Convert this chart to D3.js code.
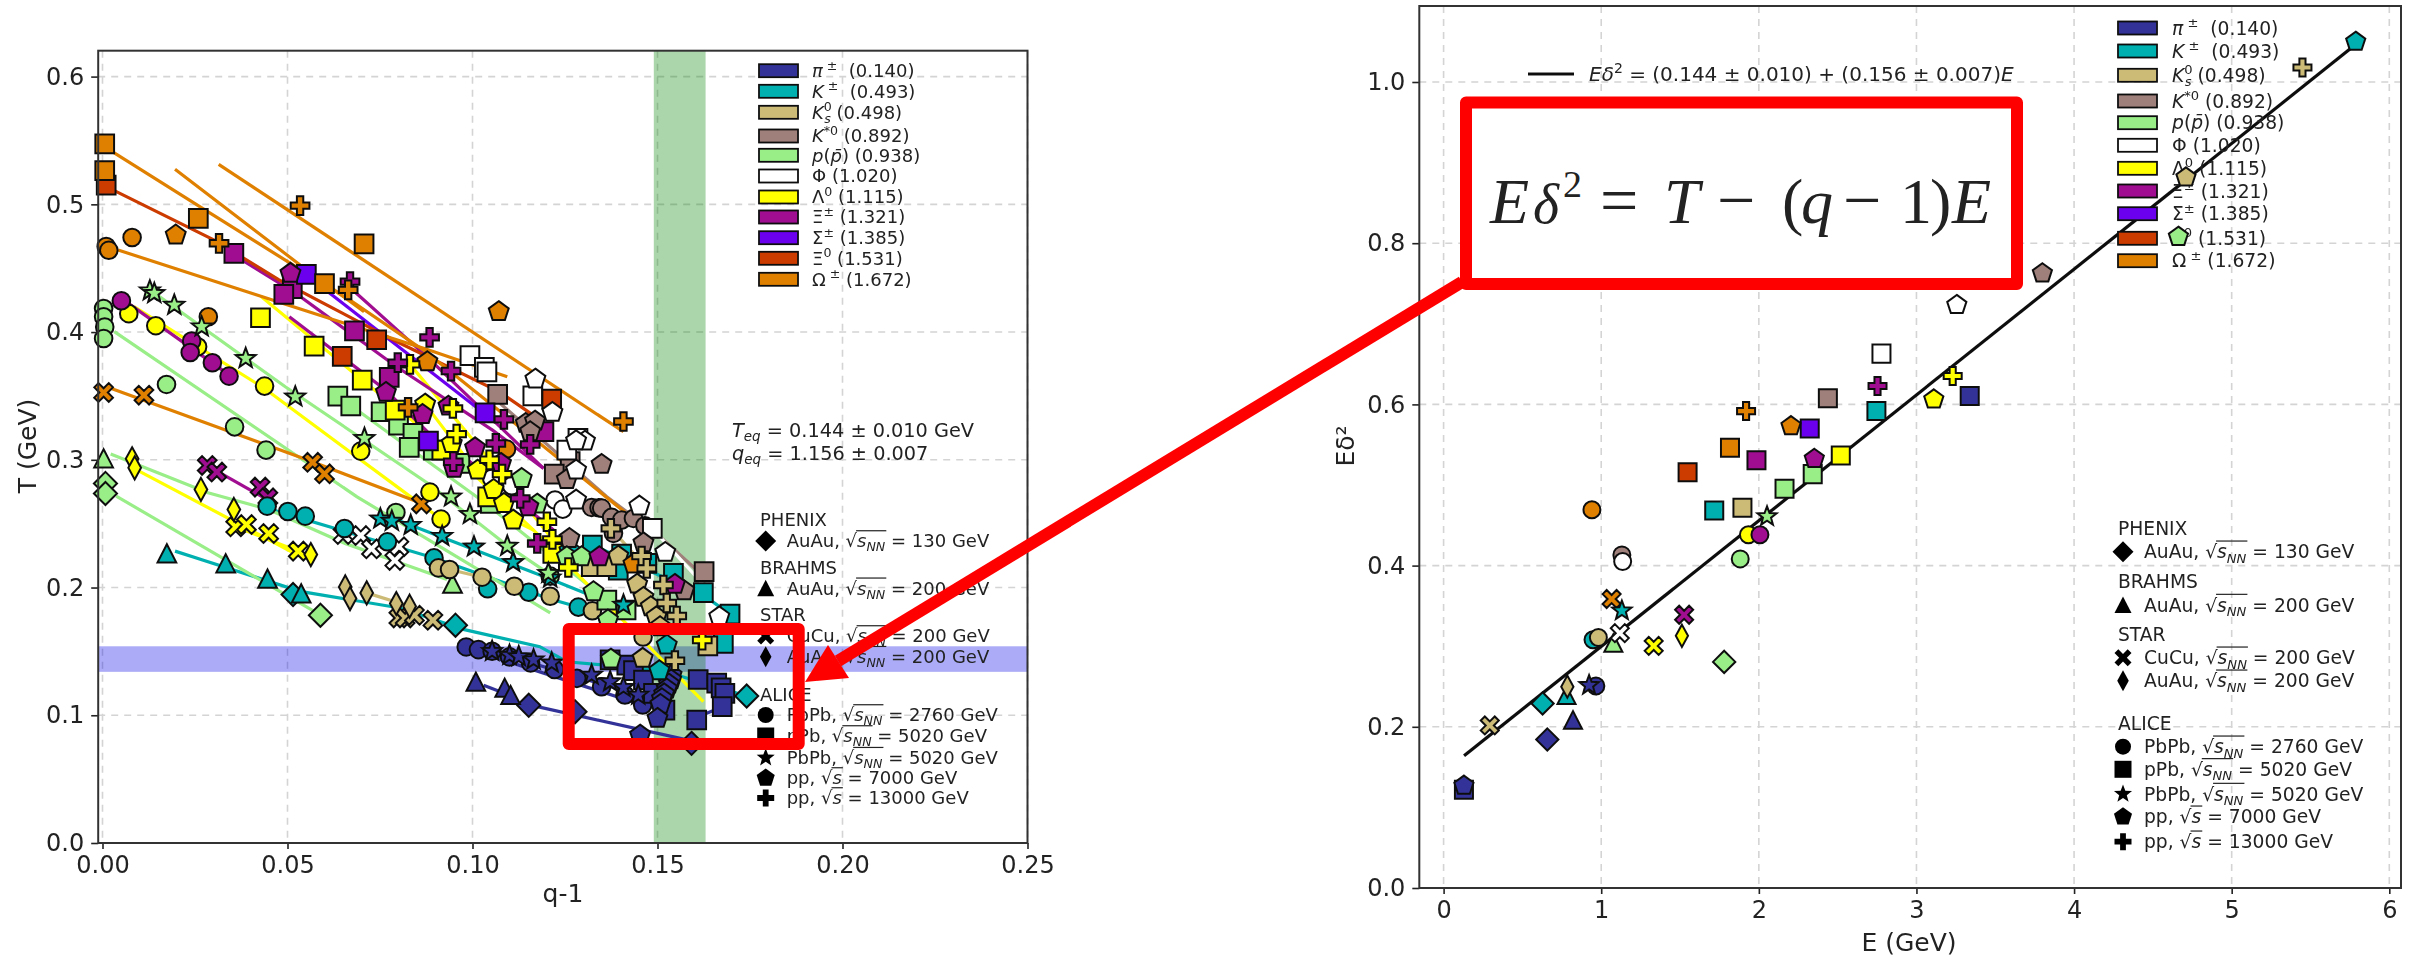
<!DOCTYPE html>
<html><head><meta charset="utf-8">
<script src="https://cdn.jsdelivr.net/npm/d3@7/dist/d3.min.js"></script>
<style>html,body{margin:0;background:#fff}svg{display:block}text{font-family:"DejaVu Sans";white-space:pre}</style>
</head><body><svg id="c" width="2411" height="960"></svg>
<script>
// ---------- particle identity ----------
const particleKeys=["pi","K","K0","Ks","p","phi","La","Xi","Si","Xi0","Om"];
const particleColors=["#333399","#00b0b0","#ccbb77","#a0807a","#99ee88","#ffffff","#ffff00","#a01090","#6a00ee","#cc3a00","#e08000"];
const systemOrder=["D","T","X","d","o","s","*","p","P"];
// ---------- left panel: [system, q-1, T] ----------
const piT=[["T",.1009,.1261],["T",.1087,.1214],["T",.1103,.1157],["D",.1152,.1078],["D",.1277,.1028],["D",.1592,.078],
["o",.0983,.1535],["o",.1016,.1514],["o",.1053,.1501],["o",.11,.1457],["o",.1157,.141],["o",.1222,.1358],["o",.1282,.1289],["o",.1349,.1223],["o",.1412,.1159],["o",.146,.108],
["*",.1053,.1501],["*",.11,.147],["*",.1125,.146],["*",.1165,.1435],["*",.1214,.141],["*",.1322,.1315],["*",.1372,.1263],["*",.1408,.1219],["*",.1448,.1159],
["s",.1372,.1433],["s",.1417,.1393],["s",.1435,.1349],["s",.1462,.1276],["s",.1489,.1172],["s",.152,.1041],["s",.161,.128],["s",.166,.1252],["s",.1672,.1215],["s",.1682,.1172],["s",.1675,.1067],["s",.1606,.0963],
["p",.1538,.1315],["p",.1537,.1277],["p",.1531,.1244],["p",.1525,.1206],["p",.1518,.1168],["p",.1512,.113],["p",.1508,.1085],["p",.15,.0976],["p",.1453,.0845]];
const kT=[["D",.0515,.1945],["D",.0954,.1705],["D",.1741,.1151],["T",.0174,.2266],["T",.0333,.2188],["T",.0446,.2068],["T",.0537,.1953],
["o",.0445,.2637],["o",.0501,.2595],["o",.0548,.2559],["o",.0654,.2462],["o",.077,.2358],["o",.0896,.2232],["o",.1041,.199],["o",.1152,.1963],["o",.1286,.1847],
["s",.1324,.2333],["s",.1403,.2262],["s",.1394,.2136],["s",.1471,.2189],["s",.1543,.2111],["s",.1624,.196],["s",.1696,.1792],["s",.1678,.1563],
["*",.0751,.2538],["*",.0782,.252],["*",.0833,.2488],["*",.0918,.2402],["*",.1004,.2319],["*",.111,.2198],["*",.121,.2076],["*",.1408,.1863],
["p",.1505,.1349],["p",.1525,.155],["p",.1262,.2290]];
const k0T=[["X",.0801,.1762],["X",.0818,.1762],["X",.0843,.1783],["X",.0893,.1744],["d",.0656,.2005],["d",.0669,.1914],["d",.0714,.1958],["d",.0794,.1875],["d",.083,.1854],
["o",.0908,.2154],["o",.0938,.2141],["o",.1026,.2081],["o",.1113,.201],["o",.121,.1932],["o",.1324,.1818],["o",.1461,.1613],
["s",.1321,.2163],["s",.1363,.2163],["s",.1636,.1544],
["p",.1394,.2246],["p",.1445,.2027],["p",.1462,.1923],["p",.1482,.185],["p",.1497,.1771],["p",.1507,.1693],["p",.146,.1446],
["P",.1374,.2463],["P",.1457,.2246],["P",.1471,.215],["P",.1516,.202],["P",.1525,.1879],["P",.1552,.1777],["P",.1547,.1427]];
const ksT=[["o",.1322,.2627],["o",.1342,.2625],["o",.1349,.2622],["o",.1376,.2549],["o",.1403,.2528],["o",.1435,.2541],["o",.1466,.2484],["o",.1381,.2424],
["s",.1068,.3512],["s",.1264,.2985],["s",.1221,.2888],["s",.1626,.2124],
["p",.1144,.3285],["p",.1169,.3303],["p",.1156,.322],["p",.1255,.2846],["p",.1349,.2964],["p",.1262,.2384],["p",.1462,.235],["p",.1572,.1975]];
const pT=[["D",.0008,.2815],["D",.0008,.2736],["D",.0589,.1783],["T",.0003,.301],["T",.0946,.2029],
["o",.0003,.4185],["o",.0003,.412],["o",.0006,.404],["o",.0003,.395],["o",.0173,.359],["o",.0357,.3258],["o",.0442,.3076],["o",.0793,.2588],["o",.121,.2089],
["s",.0636,.3499],["s",.0671,.3421],["s",.0753,.3376],["s",.08,.3272],["s",.0839,.3207],["s",.0829,.3097],["s",.0894,.3076],["s",.0966,.2972],["s",.1048,.2659],["s",.1363,.1902],["s",.1415,.1824],
["*",.0128,.4324],["*",.014,.4303],["*",.0194,.4211],["*",.0268,.4042],["*",.0387,.3794],["*",.0521,.3493],["*",.0708,.3168],["*",.0942,.271],["*",.0993,.2573],["*",.1094,.2324],["*",.1205,.2111],
["p",.1133,.2854],["p",.1175,.2653],["p",.1255,.2241],["p",.1295,.2241],["p",.1374,.144],["p",.1327,.1967],["p",.1366,.1746]];
const phiT=[["X",.065,.2415],["X",.0698,.2407],["X",.0727,.2303],["X",.0801,.2319],["X",.079,.2212],
["o",.1052,.2854],["o",.1106,.2797],["o",.1223,.2685],["o",.1244,.2614],
["s",.0993,.3815],["s",.1032,.3723],["s",.1039,.3689],["s",.1163,.3501],["s",.1285,.3167],["s",.1255,.3076],["s",.1486,.2463],
["p",.117,.3632],["p",.1216,.3371],["p",.1304,.3146],["p",.128,.3149],["p",.128,.292],["p",.128,.2685],["p",.1451,.2638],["p",.1521,.2275],["p",.1667,.1771]];
const laT=[["X",.036,.2475],["X",.0389,.2493],["X",.0449,.2423],["X",.0529,.2285],["d",.008,.3008],["d",.0087,.2937],["d",.0266,.2768],["d",.0355,.2611],["d",.0563,.2258],
["o",.0071,.4144],["o",.0144,.405],["o",.0257,.3885],["o",.0438,.3577],["o",.0698,.3068],["o",.0885,.2747],["o",.0915,.2536],
["s",.0427,.4112],["s",.0572,.389],["s",.0702,.3624],["s",.0791,.3389],["s",.0917,.3076],["s",.1041,.271],["s",.1217,.2267],
["p",.0872,.3436],["p",.0944,.3128],["p",.1014,.2919],["p",.1057,.2768],["p",.1085,.2658],["p",.111,.2528],
["P",.0831,.3747],["P",.0947,.3402],["P",.0957,.3201],["P",.1046,.3],["P",.108,.2888],["P",.1201,.2515],["P",.1216,.2377],["P",.1259,.2157],["P",.1621,.1589]];
const xiT=[["X",.0283,.2956],["X",.0309,.2904],["X",.0426,.2786],["X",.0447,.2702],
["o",.0051,.4245],["o",.0241,.393],["o",.0237,.384],["o",.0297,.376],["o",.0342,.3655],
["s",.0355,.4616],["s",.0513,.434],["s",.049,.4295],["s",.0681,.401],["s",.0775,.3645],["s",.1193,.322],
["p",.0508,.446],["p",.0766,.3528],["p",.0865,.3355],["p",.0935,.342],["p",.1007,.3094],["p",.095,.2933],["p",.1077,.2972],["p",.1151,.2633],["p",.1343,.2241],["p",.1547,.2025],
["P",.0669,.4395],["P",.0798,.376],["P",.0884,.3958],["P",.0942,.3695],["P",.1085,.3316],["P",.1063,.3128],["P",.1156,.312],["P",.0948,.2985],["P",.1129,.2698],["P",.1175,.2345]];
const siT=[["s",.0551,.4452],["s",.1034,.3368],["s",.0881,.3147]];
const xi0T=[["s",.001,.515],["s",.0741,.394],["s",.0648,.381],["s",.1214,.3475]];
const omT=[["X",.0003,.3527],["X",.0112,.3506],["X",.0568,.298],["X",.06,.289],["X",.0862,.2655],
["o",.001,.467],["o",.0017,.464],["o",.008,.474],["o",.0286,.412],["o",.1092,.3084],
["s",.0006,.5473],["s",.0006,.5264],["s",.0259,.489],["s",.0707,.469],["s",.06,.438],
["p",.0198,.476],["p",.0878,.3768],["p",.1071,.416],["p",.1435,.2184],
["P",.0315,.4695],["P",.0534,.499],["P",.0664,.433],["P",.0826,.341],["P",.1408,.33]];
// ---------- left panel: fit curves per particle ----------
const piLines=[[[.103,.1235],[.1105,.115]],[[.1172,.107],[.1592,.08]],[[.1,.151],[.146,.108]],[[.1053,.1501],[.1448,.1159]],[[.1606,.0985],[.1675,.1065]]];
const kLines=[[[.0196,.2285],[.0534,.197],[.0804,.184],[.0978,.167],[.1182,.1537],[.1255,.1419],[.1507,.1354],[.1741,.1151]],[[.0751,.258],[.121,.2067],[.1394,.185]],[[.0457,.261],[.0896,.2232],[.121,.191],[.1286,.1847]],[[.1324,.2333],[.1624,.194],[.1696,.1792]]];
const k0Lines=[[[.0714,.1958],[.083,.1854]],[[.0938,.2141],[.1026,.2081]],[[.1374,.2463],[.1471,.215]]];
const ksLines=[[[.1075,.3441],[.1255,.2985],[.1363,.2711],[.1507,.2398],[.1606,.2137]]];
const pLines=[[[.0148,.429],[.0495,.357],[.088,.2815],[.1094,.2329],[.1205,.2111]],[[.0032,.4003],[.0688,.271],[.121,.1802]],[[.0022,.3045],[.0285,.2742],[.0449,.2611],[.0651,.235],[.0931,.2063]],[[.0037,.2715],[.0592,.178]],[[.0688,.339],[.1026,.268],[.1363,.19]]];
const phiLines=[[[.1486,.2463],[.1631,.2]]];
const laLines=[[[.01,.291],[.0534,.2245]],[[.0085,.42],[.0437,.356],[.0833,.271],[.0915,.2536]],[[.0428,.428],[.0702,.3625],[.0917,.312],[.1165,.245],[.129,.2085],[.1624,.1106]],[[.0872,.3436],[.111,.2528],[.1165,.245]],[[.0831,.3747],[.1046,.3],[.1216,.2377]],[[.036,.2475],[.0529,.2285]]];
const xiLines=[[[.007,.4225],[.0342,.3665]],[[.037,.4577],[.0524,.43],[.0794,.373],[.1055,.323],[.1192,.2933]],[[.068,.432],[.0872,.382],[.1192,.2933]],[[.0505,.412],[.0765,.3546],[.093,.307],[.0993,.2985],[.1219,.245]],[[.0295,.2935],[.045,.268]]];
const siLines=[[[.0563,.442],[.1033,.336]]];
const xi0Lines=[[[.0032,.5107],[.0302,.472],[.0476,.441],[.0785,.394],[.1074,.353],[.1196,.3285]]];
const omLines=[[[.0022,.542],[.0292,.493],[.0534,.449],[.0669,.425],[.0872,.385],[.1237,.3],[.1412,.259]],[[.0196,.5274],[.0534,.4525],[.0707,.416]],[[.0314,.5313],[.1408,.322]],[[.0042,.4642],[.0428,.428],[.0669,.4055],[.0872,.387],[.1094,.365]],[[.0022,.356],[.0553,.3],[.0862,.266]]];
// ---------- right panel: [system, E, E delta^2] ----------
const piE=[["T",.821,.2083],["D",.658,.1842],["o",.966,.2506],["s",.129,.122],["s",3.338,.6103],["*",.923,.2515],["p",.129,.127]];
const kE=[["D",.628,.229],["T",.78,.239],["o",.948,.308],["s",1.717,.4685],["s",2.746,.5917],["*",1.131,.344],["p",5.787,1.05]];
const k0E=[["X",.293,.2017],["d",.785,.2498],["o",.982,.3108],["s",1.896,.4718],["p",4.71,.8816],["P",5.449,1.018]];
const ksE=[["o",1.131,.4133],["s",2.438,.6075],["p",3.799,.7627]];
const pE=[["D",1.78,.2805],["T",1.077,.3037],["o",1.882,.4083],["s",2.163,.4954],["s",2.342,.5135],["*",2.052,.461],["p",4.662,.808]];
const phiE=[["X",1.118,.3162],["o",1.136,.405],["s",2.778,.663],["p",3.256,.7234]];
const laE=[["X",1.333,.3004],["d",1.512,.3129],["o",1.934,.4382],["s",2.52,.5366],["p",3.11,.6062],["P",3.23,.6352]];
const xiE=[["X",1.526,.339],["o",2.007,.4382],["s",1.985,.5308],["p",2.352,.5325],["P",2.753,.6228]];
const siE=[["s",2.323,.5702]];
const xi0E=[["s",1.548,.5159]];
const omE=[["X",1.066,.3585],["o",.941,.4693],["s",1.817,.5462],["p",2.204,.573],["P",1.919,.5917]];
const fitLine=[[.13,.164],[5.79,1.047]];
// ---------- ticks, bands ----------
const qTicks=[0,.05,.1,.15,.2,.25], tTicks=[0,.1,.2,.3,.4,.5,.6];
const eTicks=[0,1,2,3,4,5,6], dTicks=[0,.2,.4,.6,.8,1];
const qBand=[.149,.163], tBand=[.134,.154];
const leftSeries=[piT,kT,k0T,ksT,pT,phiT,laT,xiT,siT,xi0T,omT];
const leftLines=[piLines,kLines,k0Lines,ksLines,pLines,phiLines,laLines,xiLines,siLines,xi0Lines,omLines];
const rightSeries=[piE,kE,k0E,ksE,pE,phiE,laE,xiE,siE,xi0E,omE];

// ---------- marker shapes ----------
const poly=pts=>({draw(c,s){const r=Math.sqrt(s)/2;pts.forEach((p,i)=>i?c.lineTo(p[0]*r,p[1]*r):c.moveTo(p[0]*r,p[1]*r));c.closePath();}});
const ring=(n,rot,rs)=>d3.range(n).map(i=>{const a=rot+i*2*Math.PI/n,r=rs?(i%2?rs:1):1;return[Math.sin(a)*r,-Math.cos(a)*r]});
const a=.34;
const shapes={
 o:{draw(c,s){const r=Math.sqrt(s)/2;c.moveTo(r,0);c.arc(0,0,r,0,2*Math.PI);}},
 s:poly([[-1,-1],[1,-1],[1,1],[-1,1]]),
 D:poly([[0,-1],[1,0],[0,1],[-1,0]]),
 d:poly([[0,-1],[.55,0],[0,1],[-.55,0]]),
 T:poly([[0,-1],[1,.95],[-1,.95]]),
 p:poly(ring(5,0)),
 "*":poly(ring(10,0,.42)),
 P:poly([[-a,-1],[a,-1],[a,-a],[1,-a],[1,a],[a,a],[a,1],[-a,1],[-a,a],[-1,a],[-1,-a],[-a,-a]]),
 X:poly([[-1,-.55],[-.55,-1],[0,-.45],[.55,-1],[1,-.55],[.45,0],[1,.55],[.55,1],[0,.45],[-.55,1],[-1,.55],[-.45,0]])
};
const sizes={o:16,s:17,D:21,d:21,T:17,p:19,"*":19,P:17,X:17};
const symbolPath=(k,f=1)=>d3.symbol().type(shapes[k]).size((sizes[k]*f)**2)();

const svg=d3.select("#c");
const defs=svg.append("defs");
defs.append("filter").attr("id","soft").attr("filterUnits","userSpaceOnUse").attr("x",0).attr("y",0).attr("width",2411).attr("height",960)
  .append("feGaussianBlur").attr("stdDeviation",.7);

function rich(g,x,y,parts,fs,fill="#222"){
  const t=g.append("text").attr("x",x).attr("y",y).attr("font-size",fs).attr("fill",fill);
  let cur=0;const over=[];
  parts.forEach(p=>{
    const o=typeof p==="string"?{t:p}:p;
    const off=o.b==="sup"?-.42*fs:o.b==="sub"?.22*fs:0;
    const ts=t.append("tspan").text(o.t).attr("dy",off-cur);
    if(o.dx)ts.attr("dx",o.dx*fs);
    if(o.i)ts.attr("font-style","italic");
    if(o.b)ts.attr("font-size",fs*.7);
    if(o.over)over.push(ts.node());
    cur=off;
  });
  if(over.length){
    const x0=over[0].getStartPositionOfChar(0).x;
    const last=over[over.length-1];
    const x1=last.getStartPositionOfChar(0).x+last.getComputedTextLength();
    g.append("line").attr("x1",x0-1).attr("x2",x1+1).attr("y1",y-.93*fs).attr("y2",y-.93*fs).attr("stroke",fill).attr("stroke-width",1.2);
  }
}
const it=(t,b)=>({t,i:1,b});
const sup=t=>({t,b:"sup"});
const particleLabels=[
 [it("π"),sup(" ±"),"  (0.140)"],[it("K"),sup(" ±"),"  (0.493)"],
 [it("K"),sup("0"),{t:"s",i:1,b:"sub",dx:-.42}," (0.498)"],[it("K"),sup("*0")," (0.892)"],
 [it("p"),"(",it("p̄"),") (0.938)"],["Φ (1.020)"],["Λ",sup("0")," (1.115)"],["Ξ",sup("±")," (1.321)"],["Σ",sup("±")," (1.385)"],["Ξ",sup("0")," (1.531)"],["Ω",sup(" ±")," (1.672)"]];
const rootNN=(pre,tail)=>[pre+", ",{t:"√"},{t:"s",i:1,over:1},{t:"NN",i:1,b:"sub",over:1}," = "+tail];
const rootS=(pre,tail)=>[pre+", ",{t:"√"},{t:"s",i:1,over:1}," = "+tail];
const systemRows=[
 {head:"PHENIX"},{m:"D",l:rootNN("AuAu","130 GeV")},{head:"BRAHMS"},{m:"T",l:rootNN("AuAu","200 GeV")},
 {head:"STAR"},{m:"X",l:rootNN("CuCu","200 GeV")},{m:"d",l:rootNN("AuAu","200 GeV")},
 {head:"ALICE"},{m:"o",l:rootNN("PbPb","2760 GeV")},{m:"s",l:rootNN("pPb","5020 GeV")},{m:"*",l:rootNN("PbPb","5020 GeV")},{m:"p",l:rootS("pp","7000 GeV")},{m:"P",l:rootS("pp","13000 GeV")}];

function frame(g,x,y,box,xT,yT){
  g.append("g").selectAll("line").data(xT).join("line").attr("y1",box.t).attr("y2",box.b).attr("x1",d=>x(d)).attr("x2",d=>x(d)).attr("stroke","#d4d4d4").attr("stroke-width",1.6).attr("stroke-dasharray","7 6");
  g.append("g").selectAll("line").data(yT.filter(d=>d>0)).join("line").attr("x1",box.l).attr("x2",box.r).attr("y1",d=>y(d)).attr("y2",d=>y(d)).attr("stroke","#d4d4d4").attr("stroke-width",1.6).attr("stroke-dasharray","7 6");
}
function axes(g,x,y,box,xT,yT,xFmt,yFmt){
  const ax=g.append("g").attr("transform",`translate(0,${box.b})`).call(d3.axisBottom(x).tickValues(xT).tickFormat(xFmt).tickSize(6).tickPadding(7));
  const ay=g.append("g").attr("transform",`translate(${box.l},0)`).call(d3.axisLeft(y).tickValues(yT).tickFormat(yFmt).tickSize(7).tickPadding(7));
  [ax,ay].forEach(a=>{a.select(".domain").remove();a.selectAll("text").attr("font-size",24).attr("font-family","DejaVu Sans").attr("fill","#222");a.selectAll("line").attr("stroke","#222").attr("stroke-width",1.6);});
  g.append("rect").attr("x",box.l).attr("y",box.t).attr("width",box.r-box.l).attr("height",box.b-box.t).attr("fill","none").attr("stroke","#333").attr("stroke-width",2);
}
function markers(g,x,y,series,f){
  const rows=[];
  series.forEach((arr,i)=>arr.forEach(d=>rows.push({k:d[0],a:d[1],b:d[2],i})));
  rows.sort((p,q)=>systemOrder.indexOf(p.k)-systemOrder.indexOf(q.k)||p.i-q.i);
  g.append("g").selectAll("path").data(rows).join("path")
   .attr("d",d=>symbolPath(d.k,f)).attr("transform",d=>`translate(${x(d.a)},${y(d.b)})`)
   .attr("fill",d=>particleColors[d.i]).attr("stroke","#111").attr("stroke-width",2).attr("stroke-linejoin","miter");
}
function particleLegend(g,ys,px,pw,tx,fs){
  ys.forEach((yy,i)=>{
    g.append("rect").attr("x",px).attr("y",yy-6.5).attr("width",pw).attr("height",13).attr("fill",particleColors[i]).attr("stroke","#111").attr("stroke-width",1.8);
    rich(g,tx,yy+fs*.36,particleLabels[i],fs);
  });
}
function systemLegend(g,ys,hx,mx,tx,fs){
  systemRows.forEach((r,i)=>{
    const yy=ys[i];
    if(r.head){rich(g,hx,yy+fs*.36,[r.head],fs);return;}
    g.append("path").attr("d",symbolPath(r.m,1)).attr("transform",`translate(${mx},${yy})`).attr("fill","#000");
    rich(g,tx,yy+fs*.36,r.l,fs);
  });
}

// ================= LEFT =================
const L={l:98.2,r:1027.5,t:50.7,b:843};
const xL=d3.scaleLinear().domain([0,.25]).range([102.5,1027.5]);
const yL=d3.scaleLinear().domain([0,.6]).range([843,76.6]);
const gL=svg.append("g").attr("filter","url(#soft)");
frame(gL,xL,yL,L,qTicks,tTicks);
gL.append("rect").attr("x",L.l).attr("width",L.r-L.l).attr("y",yL(tBand[1])).attr("height",yL(tBand[0])-yL(tBand[1])).attr("fill","#0000e6").attr("fill-opacity",.33);
gL.append("rect").attr("x",xL(qBand[0])).attr("width",xL(qBand[1])-xL(qBand[0])).attr("y",L.t).attr("height",L.b-L.t).attr("fill","#008000").attr("fill-opacity",.33);
const lineGen=(x,y)=>d3.line().x(d=>x(d[0])).y(d=>y(d[1]));
leftLines.forEach((ls,i)=>gL.append("g").selectAll("path").data(ls).join("path").attr("d",lineGen(xL,yL)).attr("fill","none").attr("stroke",particleColors[i]).attr("stroke-width",3.2));
particleLegend(gL,[70.7,91.3,112.3,136,155.3,176,197,217,237.7,258.3,279.3],759,39,812,18);
rich(gL,732,436.5,[it("T"),it("eq",'sub')," = 0.144 ± 0.010 GeV"],19.3);
rich(gL,732,459.5,[it("q"),it("eq",'sub')," = 1.156 ± 0.007"],19.3);
systemLegend(gL,[520,541,567.3,588.3,615,636,656.7,694.3,715,736,757.7,778,798],760,765.7,786.7,18);
markers(gL,xL,yL,leftSeries,1.1);
axes(gL,xL,yL,L,qTicks,tTicks,d3.format(".2f"),d3.format(".1f"));
gL.append("text").attr("x",563).attr("y",902).attr("text-anchor","middle").attr("font-size",25).attr("fill","#222").text("q-1");
gL.append("text").attr("transform","translate(36,446) rotate(-90)").attr("text-anchor","middle").attr("font-size",25).attr("fill","#222").text("T (GeV)");

// ================= RIGHT =================
const R={l:1419.3,r:2401,t:6,b:888};
const xR=d3.scaleLinear().domain([0,6]).range([1443.6,2389.3]);
const yR=d3.scaleLinear().domain([0,1]).range([888,82]);
const gR=svg.append("g").attr("filter","url(#soft)");
frame(gR,xR,yR,R,eTicks,dTicks);
gR.append("path").datum(fitLine).attr("d",lineGen(xR,yR)).attr("fill","none").attr("stroke","#111").attr("stroke-width",3.2);
gR.append("line").attr("x1",1528).attr("x2",1574).attr("y1",74).attr("y2",74).attr("stroke","#111").attr("stroke-width",3);
rich(gR,1589,81,[it("E"),it("δ"),sup("2")," = (0.144 ± 0.010) + (0.156 ± 0.007)",it("E")],20);
particleLegend(gR,[28,51,75.3,101,122.7,145.3,168.3,191,213.7,238.3,260.7],2118,39,2172,18.7);
systemLegend(gR,[528,551.7,581.7,605,634,657.7,680.7,723.3,746.7,769.3,794,816.7,841.7],2118,2123,2144,18.7);
markers(gR,xR,yR,rightSeries,1.06);
axes(gR,xR,yR,R,eTicks,dTicks,d3.format("d"),d3.format(".1f"));
gR.append("text").attr("x",1909).attr("y",951).attr("text-anchor","middle").attr("font-size",25).attr("fill","#222").text("E (GeV)");
gR.append("text").attr("transform","translate(1354,446) rotate(-90)").attr("text-anchor","middle").attr("font-size",25).attr("fill","#222").text("Eδ²");

// ================= RED ANNOTATION =================
const red=svg.append("g");
red.append("rect").attr("x",1466).attr("y",102.5).attr("width",551).attr("height",181.5).attr("fill","#fff").attr("stroke","#ff0000").attr("stroke-width",12).attr("stroke-linejoin","round");
red.append("rect").attr("x",568.7).attr("y",629).attr("width",230).attr("height",115).attr("fill","none").attr("stroke","#ff0000").attr("stroke-width",12).attr("stroke-linejoin","round");
red.append("line").attr("x1",838).attr("y1",661).attr("x2",1462).attr("y2",282).attr("stroke","#ff0000").attr("stroke-width",12);
red.append("path").attr("d",d3.line()([[805,682],[828,645],[849,678]])+"Z").attr("fill","#ff0000");
const formula=[["E",1490,1,64],["δ",1533,1,56],["2",1563,0,38,-26],["=",1600,0,68],["T",1664,1,64],["−",1717,0,68],["(",1782,0,64],["q",1801,1,64],["−",1843,0,68],["1",1900,0,64],[")",1930,0,64],["E",1952,1,64]];
formula.forEach(f=>red.append("text").attr("x",f[1]).attr("y",223+(f[4]||0)).attr("font-size",f[3]).attr("fill","#222").style("font-family","Liberation Serif").attr("font-style",f[2]?"italic":"normal").text(f[0]));
</script></body></html>
